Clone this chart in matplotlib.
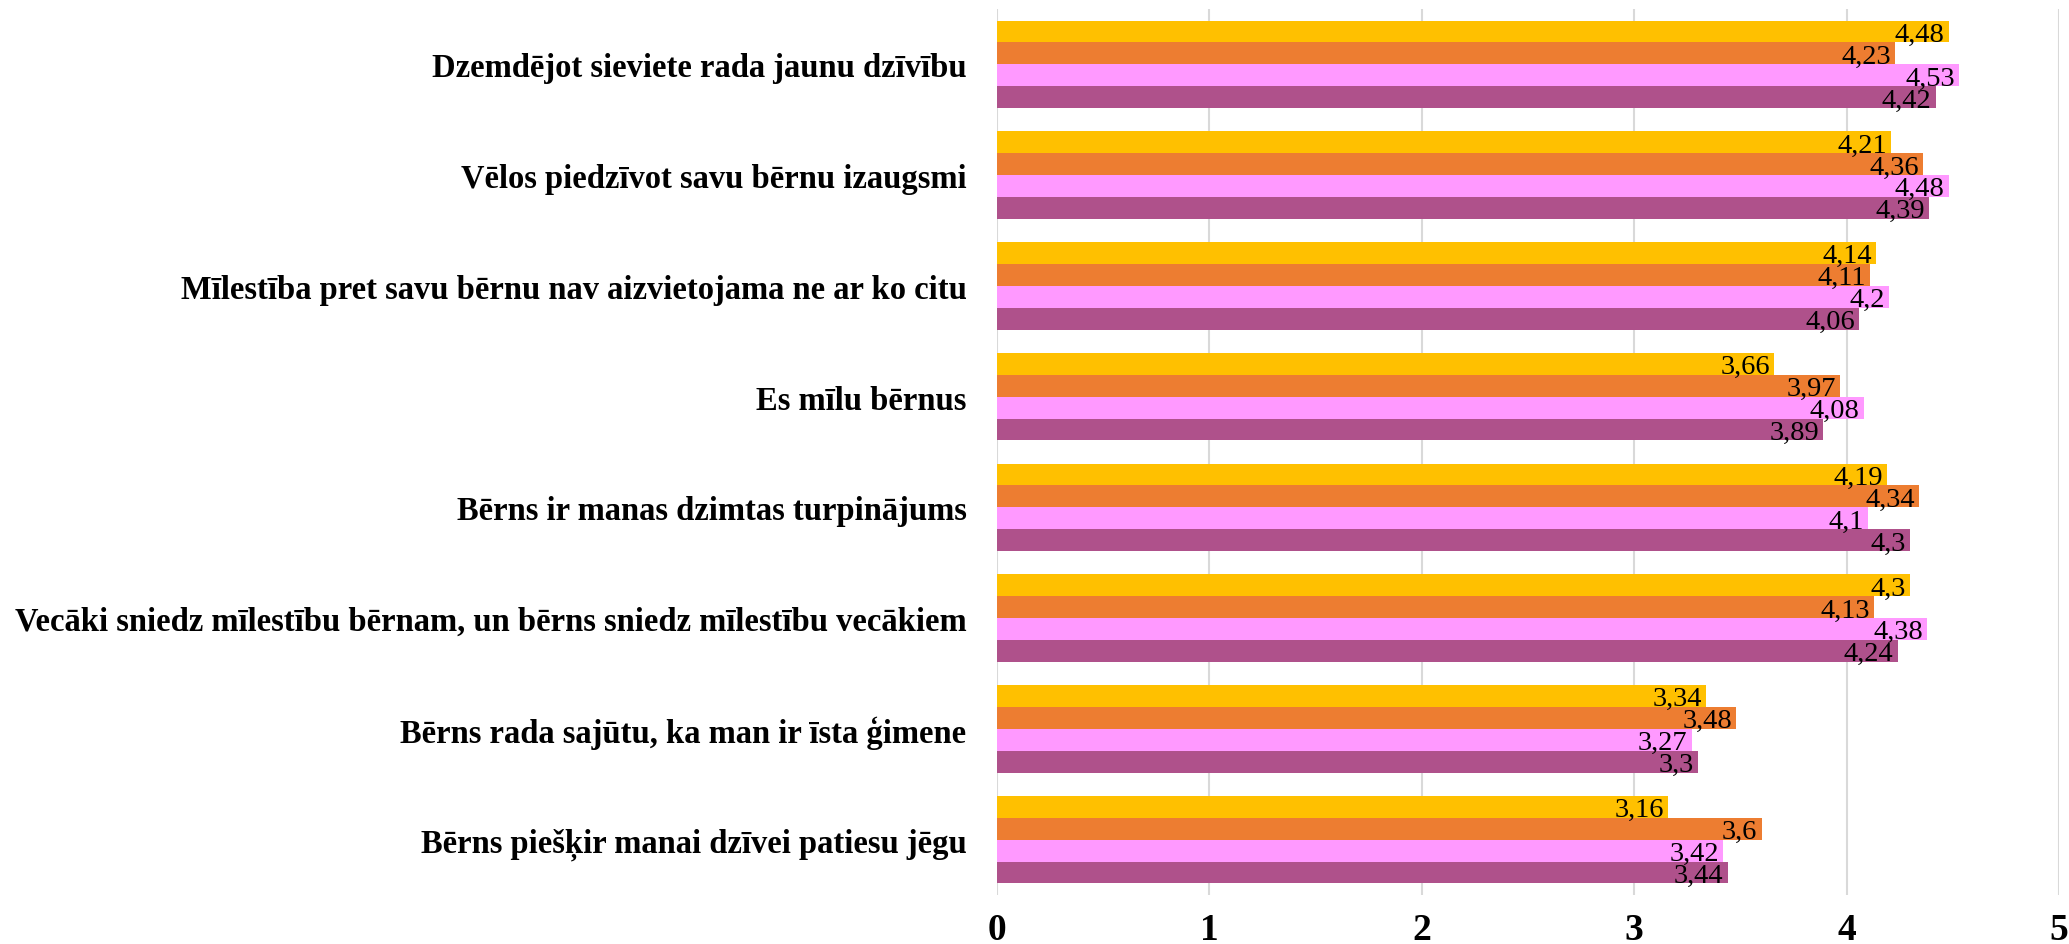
import matplotlib
matplotlib.use("Agg")
import matplotlib.pyplot as plt
import numpy as np

categories = [
    "Dzemdējot sieviete rada jaunu dzīvību",
    "Vēlos piedzīvot savu bērnu izaugsmi",
    "Mīlestība pret savu bērnu nav aizvietojama ne ar ko citu",
    "Es mīlu bērnus",
    "Bērns ir manas dzimtas turpinājums",
    "Vecāki sniedz mīlestību bērnam, un bērns sniedz mīlestību vecākiem",
    "Bērns rada sajūtu, ka man ir īsta ģimene",
    "Bērns piešķir manai dzīvei patiesu jēgu",
]
series_yellow = [4.48, 4.21, 4.14, 3.66, 4.19, 4.30, 3.34, 3.16]
series_orange = [4.23, 4.36, 4.11, 3.97, 4.34, 4.13, 3.48, 3.60]
series_pink = [4.53, 4.48, 4.20, 4.08, 4.10, 4.38, 3.27, 3.42]
series_purple = [4.42, 4.39, 4.06, 3.89, 4.30, 4.24, 3.30, 3.44]
x_ticks = [0, 1, 2, 3, 4, 5]

colors = ["#FFC000", "#ED7D31", "#FF99FF", "#AF518B"]
all_series = [series_yellow, series_orange, series_pink, series_purple]

plt.rcParams['font.family'] = ['Liberation Serif', 'DejaVu Serif']

fig = plt.figure(figsize=(20.69, 9.45), dpi=100)
ax = fig.add_axes([997 / 2069, 1 - 896 / 945, (2059 - 997) / 2069, (896 - 10) / 945])

y = np.arange(len(categories))
h = 0.198
offsets = [-1.5, -0.5, 0.5, 1.5]
for vals, col, off in zip(all_series, colors, offsets):
    ax.barh(y + off * h, vals, height=h, color=col, zorder=2)
    for yy, v in zip(y + off * h, vals):
        lab = f"{v:g}".replace('.', ',')
        ax.annotate(lab, (v, yy), xytext=(-3, -2), textcoords='offset points',
                    ha='right', va='center', fontsize=20.5, zorder=3)

ax.set_xlim(0, 5)
ax.set_ylim(len(categories) - 0.5, -0.5)
ax.set_xticks(x_ticks)
ax.set_xticklabels([str(t) for t in x_ticks], fontsize=27, fontweight='bold')
ax.set_yticks(y)
ax.set_yticklabels(categories, fontsize=23.5, fontweight='bold')
ax.tick_params(axis='both', length=0)
ax.tick_params(axis='y', pad=22)
ax.tick_params(axis='x', pad=12)
ax.grid(axis='x', color='#D9D9D9', linewidth=1.5, zorder=0)
for s in ax.spines.values():
    s.set_visible(False)

fig.savefig("out.png", dpi=100, facecolor='white')
